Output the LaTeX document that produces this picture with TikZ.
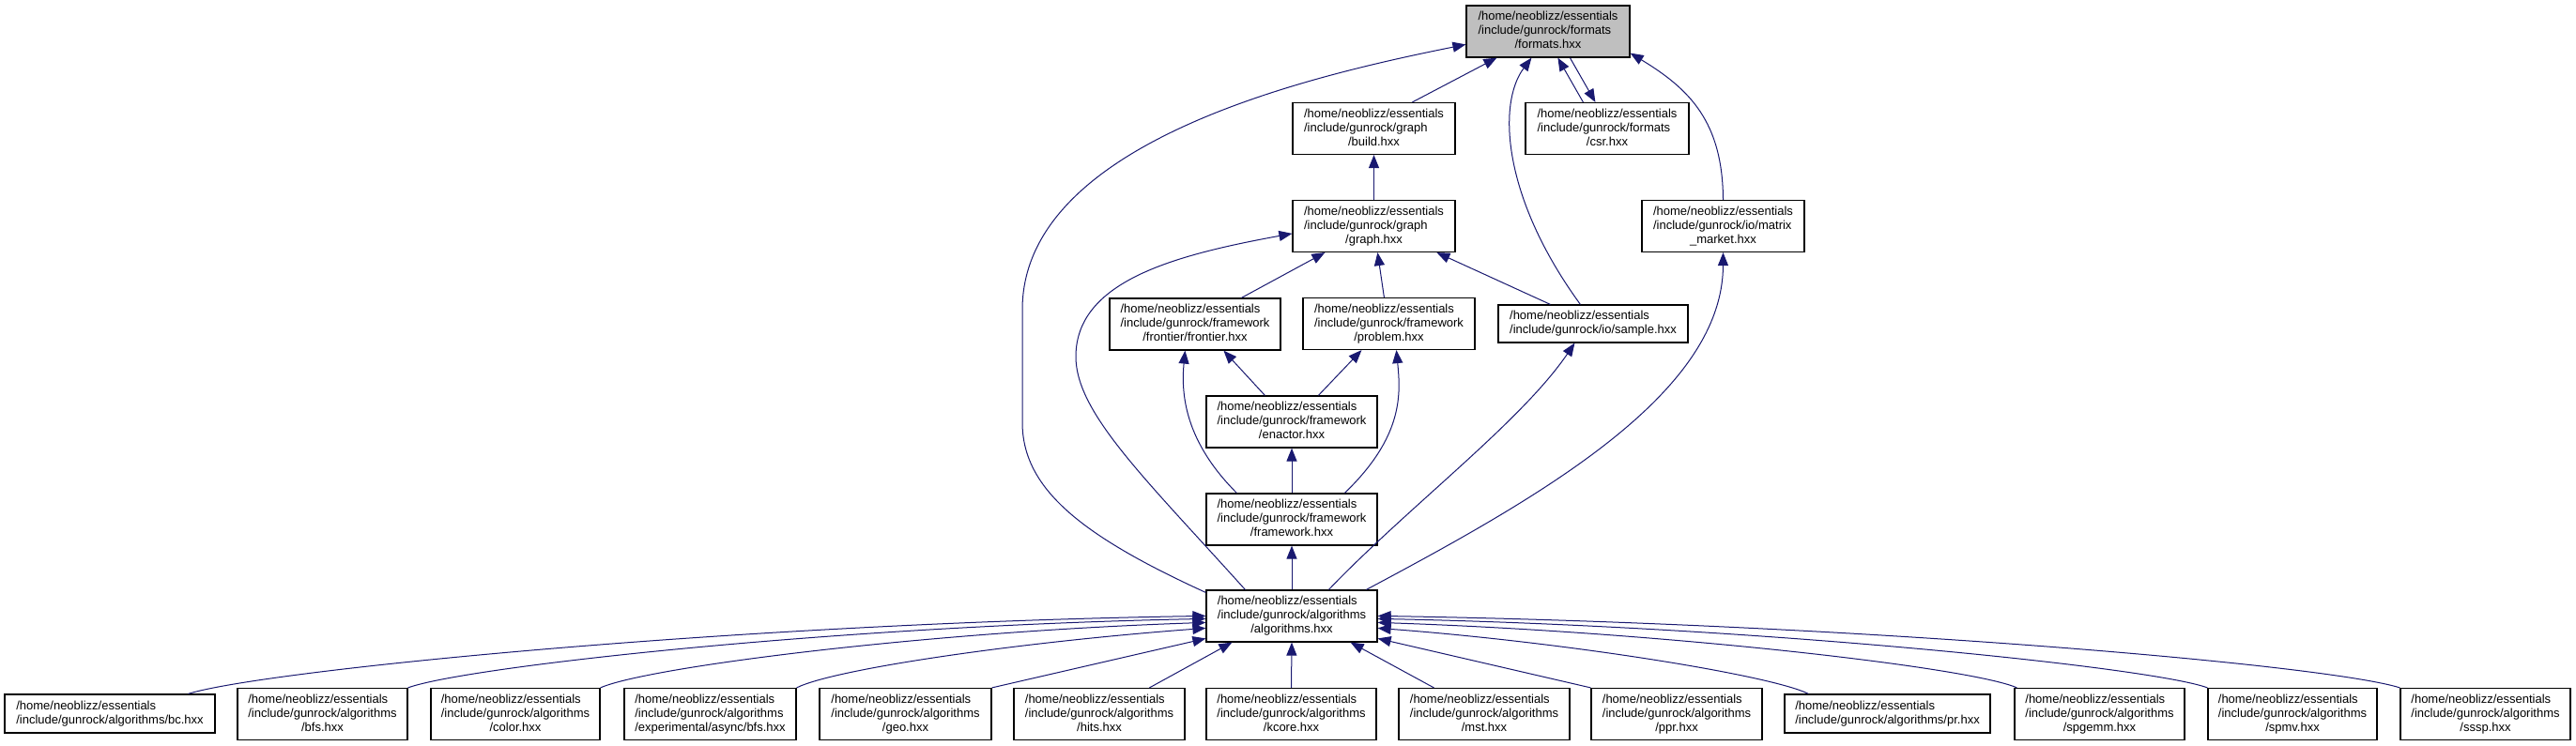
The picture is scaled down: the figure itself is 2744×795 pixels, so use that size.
\documentclass[tikz,border=0pt]{standalone}
\usepackage{fontspec}
\setmainfont{Liberation Sans}
\usetikzlibrary{arrows.meta}
\definecolor{edgecol}{HTML}{191970}
\definecolor{hlgrey}{HTML}{BFBFBF}
\newcommand{\threelines}[3]{\begin{tabular}{@{}l@{}}#1\\#2\\\multicolumn{1}{@{}c@{}}{#3}\end{tabular}}
\newcommand{\threeleft}[3]{\begin{tabular}{@{}l@{}}#1\\#2\\#3\end{tabular}}
\newcommand{\twolines}[2]{\begin{tabular}{@{}l@{}}#1\\#2\end{tabular}}
\begin{document}
\begin{tikzpicture}[x=1pt,y=-1pt,
  box/.style={draw=black, line width=1.2pt, fill=white, inner sep=0pt, minimum height=55pt, font=\fontsize{13}{15}\selectfont},
  edge/.style={draw=edgecol, line width=1pt, -{Triangle[length=14pt,width=11pt]}}]
\useasboundingbox (0,0) rectangle (2744,795);
\fill[white] (0,0) rectangle (2744,795);
% upper nodes
\node[box, fill=hlgrey, minimum width=174pt] (formats) at (1649,33.5) {\threelines{/home/neoblizz/essentials}{/include/gunrock/formats}{/formats.hxx}};
\node[box, minimum width=173pt] (build) at (1463.5,137) {\threelines{/home/neoblizz/essentials}{/include/gunrock/graph}{/build.hxx}};
\node[box, minimum width=174pt] (csr) at (1712,137) {\threelines{/home/neoblizz/essentials}{/include/gunrock/formats}{/csr.hxx}};
\node[box, minimum width=173pt] (graph) at (1463.5,241) {\threelines{/home/neoblizz/essentials}{/include/gunrock/graph}{/graph.hxx}};
\node[box, minimum width=173pt] (matrix) at (1835.5,241) {\threelines{/home/neoblizz/essentials}{/include/gunrock/io/matrix}{\_market.hxx}};
\node[box, minimum width=182pt] (frontier) at (1273,345.5) {\threelines{/home/neoblizz/essentials}{/include/gunrock/framework}{/frontier/frontier.hxx}};
\node[box, minimum width=183pt] (problem) at (1479.5,345) {\threelines{/home/neoblizz/essentials}{/include/gunrock/framework}{/problem.hxx}};
\node[box, minimum width=202pt, minimum height=40pt] (sample) at (1697,345) {\twolines{/home/neoblizz/essentials}{/include/gunrock/io/sample.hxx}};
\node[box, minimum width=182pt] (enactor) at (1376,449.5) {\threelines{/home/neoblizz/essentials}{/include/gunrock/framework}{/enactor.hxx}};
\node[box, minimum width=182pt] (framework) at (1376,553.5) {\threelines{/home/neoblizz/essentials}{/include/gunrock/framework}{/framework.hxx}};
\node[box, minimum width=182pt] (algorithms) at (1376,656.5) {\threelines{/home/neoblizz/essentials}{/include/gunrock/algorithms}{/algorithms.hxx}};
% bottom row
\node[box, minimum width=224pt, minimum height=41pt] (bc) at (117,760.5) {\twolines{/home/neoblizz/essentials}{/include/gunrock/algorithms/bc.hxx}};
\node[box, minimum width=181pt] (bfs) at (343.5,761) {\threelines{/home/neoblizz/essentials}{/include/gunrock/algorithms}{/bfs.hxx}};
\node[box, minimum width=180pt] (color) at (549,761) {\threelines{/home/neoblizz/essentials}{/include/gunrock/algorithms}{/color.hxx}};
\node[box, minimum width=183pt] (async) at (756.5,761) {\threeleft{/home/neoblizz/essentials}{/include/gunrock/algorithms}{/experimental/async/bfs.hxx}};
\node[box, minimum width=183pt] (geo) at (964.5,761) {\threelines{/home/neoblizz/essentials}{/include/gunrock/algorithms}{/geo.hxx}};
\node[box, minimum width=182pt] (hits) at (1171,761) {\threelines{/home/neoblizz/essentials}{/include/gunrock/algorithms}{/hits.hxx}};
\node[box, minimum width=181pt] (kcore) at (1375.5,761) {\threelines{/home/neoblizz/essentials}{/include/gunrock/algorithms}{/kcore.hxx}};
\node[box, minimum width=182pt] (mst) at (1581,761) {\threelines{/home/neoblizz/essentials}{/include/gunrock/algorithms}{/mst.hxx}};
\node[box, minimum width=182pt] (ppr) at (1786,761) {\threelines{/home/neoblizz/essentials}{/include/gunrock/algorithms}{/ppr.hxx}};
\node[box, minimum width=219pt, minimum height=41pt] (pr) at (2010.5,760.5) {\twolines{/home/neoblizz/essentials}{/include/gunrock/algorithms/pr.hxx}};
\node[box, minimum width=181pt] (spgemm) at (2236.5,761) {\threelines{/home/neoblizz/essentials}{/include/gunrock/algorithms}{/spgemm.hxx}};
\node[box, minimum width=180pt] (spmv) at (2442,761) {\threelines{/home/neoblizz/essentials}{/include/gunrock/algorithms}{/spmv.hxx}};
\node[box, minimum width=181pt] (sssp) at (2647.5,761) {\threelines{/home/neoblizz/essentials}{/include/gunrock/algorithms}{/sssp.hxx}};
% upper edges
\draw[edge] ([xshift=128pt]build.north west) -- ([xshift=33pt]formats.south west);
\draw[edge] ([xshift=62pt]csr.north west) -- ([xshift=98pt]formats.south west);
\draw[edge] ([xshift=111pt]formats.south west) -- ([xshift=75pt]csr.north west);
\draw[edge] ([xshift=88pt]sample.north west) .. controls (1600,210) and (1595,110) .. ([xshift=70pt]formats.south west);
\draw[edge] (matrix.north) .. controls (1835,130) and (1800,95) .. ([yshift=5pt]formats.south east);
\draw[edge] ([yshift=-3pt]algorithms.north west) .. controls (1150,570) and (1089,520) .. (1089,450) -- (1089,330) .. controls (1089,150) and (1400,80) .. ([yshift=-42pt]formats.north west);
\draw[edge] (graph.north) -- (build.south);
\draw[edge] ([xshift=141pt]frontier.north west) -- ([xshift=35pt]graph.south west);
\draw[edge] ([xshift=87pt]problem.north west) -- ([xshift=91pt]graph.south west);
\draw[edge] ([xshift=56pt]sample.north west) -- ([xshift=154pt]graph.south west);
\draw[edge] ([xshift=42pt]algorithms.north west) .. controls (1220,510) and (1146,440) .. (1146,380) .. controls (1146,300) and (1250,272) .. ([yshift=-36pt]graph.north west);
\draw[edge] ([xshift=63pt]enactor.north west) -- ([xshift=122pt]frontier.south west);
\draw[edge] ([xshift=120pt]enactor.north west) -- ([xshift=63pt]problem.south west);
\draw[edge] ([xshift=33pt]framework.north west) .. controls (1262,470) and (1258,420) .. ([xshift=81pt]frontier.south west);
\draw[edge] ([xshift=148pt]framework.north west) .. controls (1495,465) and (1492,420) .. ([xshift=100pt]problem.south west);
\draw[edge] (framework.north) -- (enactor.south);
\draw[edge] (algorithms.north) -- (framework.south);
\draw[edge] ([xshift=131pt]algorithms.north west) .. controls (1500,540) and (1620,450) .. ([xshift=82pt]sample.south west);
\draw[edge] ([xshift=171pt]algorithms.north west) .. controls (1640,530) and (1835,420) .. (matrix.south);
% bottom edges
\draw[edge] ([xshift=196pt]bc.north west) .. controls +(80,-25) and +(-500,8) .. ([yshift=-28pt]algorithms.north west);
\draw[edge] (bfs.north east) .. controls +(60,-22) and +(-400,8) .. ([yshift=-31pt]algorithms.north west);
\draw[edge] (color.north east) .. controls +(50,-22) and +(-300,10) .. ([yshift=-35pt]algorithms.north west);
\draw[edge] (async.north east) .. controls +(40,-20) and +(-200,15) .. ([yshift=-41pt]algorithms.north west);
\draw[edge] (geo.north east) -- ([yshift=-52pt]algorithms.north west);
\draw[edge] ([xshift=145pt]hits.north west) -- ([xshift=28pt]algorithms.south west);
\draw[edge] (kcore.north) -- (algorithms.south);
\draw[edge] ([xshift=38pt]mst.north west) -- ([xshift=-29pt]algorithms.south east);
\draw[edge] (ppr.north west) -- ([yshift=-52pt]algorithms.north east);
\draw[edge] ([xshift=26pt]pr.north west) .. controls +(-40,-20) and +(200,15) .. ([yshift=-41pt]algorithms.north east);
\draw[edge] ([xshift=3pt]spgemm.north west) .. controls +(-50,-22) and +(300,10) .. ([yshift=-35pt]algorithms.north east);
\draw[edge] (spmv.north west) .. controls +(-60,-22) and +(400,8) .. ([yshift=-31pt]algorithms.north east);
\draw[edge] (sssp.north west) .. controls +(-80,-25) and +(500,8) .. ([yshift=-28pt]algorithms.north east);
\end{tikzpicture}
\end{document}
